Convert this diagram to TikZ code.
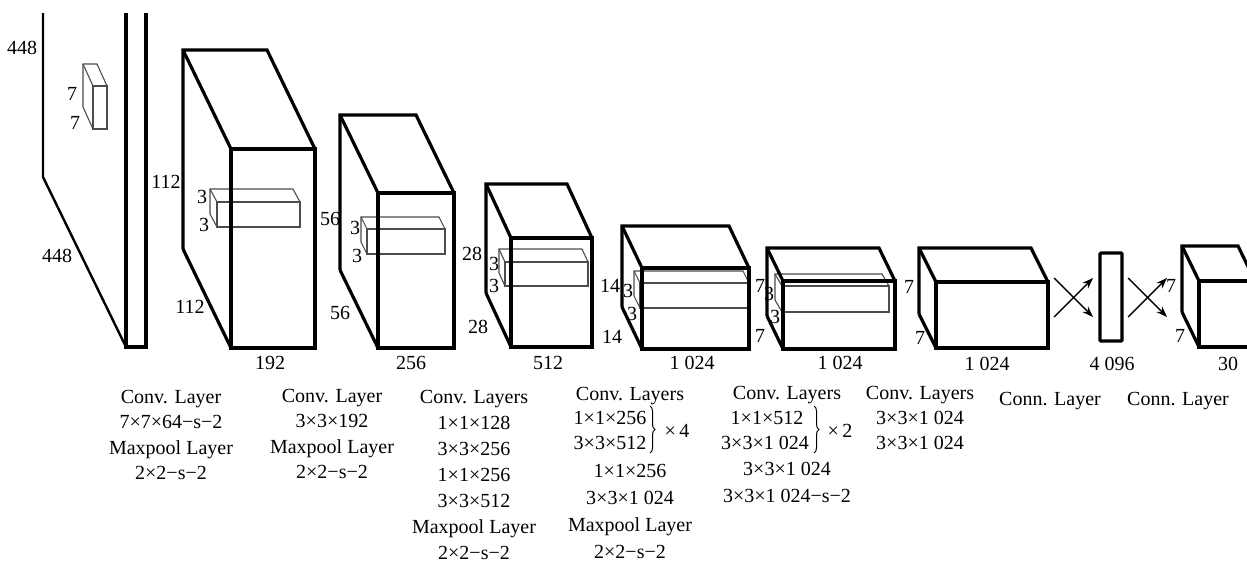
\documentclass[tikz,border=0pt]{standalone}
\usepackage{fontspec}
\setmainfont{Liberation Serif}
\usetikzlibrary{arrows.meta,decorations.pathreplacing}

\tikzset{
  blk/.style={line width=3.2pt, line join=miter},
  ker/.style={line width=1.1pt, draw=black!70},
  plane/.style={line width=2.4pt},
  dim/.style={inner sep=0pt, text height=14pt, text depth=0pt,
              font=\fontsize{20}{24}\selectfont},
  captxt/.style={dim},
  fcarrow/.style={line width=1.4pt, -{Stealth[length=11pt,width=8pt]}},
  brc/.style={decorate, decoration={brace, amplitude=5pt}, line width=1pt},
  fcbox/.style={draw, line width=3.2pt, inner sep=0pt, rounded corners=1pt,
                minimum width=22pt, minimum height=88pt},
}

% cuboid seen from the upper left: [style]{name}{x}{y}{dx}{dy}{w}{h}
% (x,y) back top-left corner, (dx,dy) depth offset, w x h front face
\newcommand{\cub}[8][blk]{%
  \coordinate (#2-btl) at (#3,#4);
  \coordinate (#2-btr) at (#3+#7,#4);
  \coordinate (#2-bbl) at (#3,#4+#8);
  \coordinate (#2-ftl) at (#3+#5,#4+#6);
  \coordinate (#2-ftr) at (#3+#5+#7,#4+#6);
  \coordinate (#2-fbl) at (#3+#5,#4+#6+#8);
  \coordinate (#2-fbr) at (#3+#5+#7,#4+#6+#8);
  \draw[#1] (#2-bbl) -- (#2-btl) -- (#2-btr) -- (#2-ftr);
  \draw[#1] (#2-btl) -- (#2-ftl);
  \draw[#1] (#2-bbl) -- (#2-fbl);
  \draw[#1] (#2-ftl) rectangle (#2-fbr);
}

% stacked caption lines: {name}{x}{y of first line}{spacing}{lines}
\newcommand{\lines}[5]{%
  \foreach \t [count=\i] in {#5} {\node[captxt] (#1-\i) at (#2,#3+#4*\i-#4) {\t};}
}

\begin{document}
\begin{tikzpicture}[x=1pt,y=-1pt]
\useasboundingbox (0,0) rectangle (1247,562);

% ---- input image 448 x 448 ----
\coordinate (in-t) at (43,13);
\coordinate (in-m) at (43,177);
\coordinate (s-tl) at (126,13);
\coordinate (s-bl) at (126,347);
\coordinate (s-br) at (146,347);
\coordinate (s-tr) at (146,13);
\draw[plane] (in-t) -- (in-m) -- (s-bl);
\draw[blk] (s-tl) -- (s-bl) -- (s-br) -- (s-tr);
\cub[ker]{k1}{83}{64}{10}{22}{14}{43}
\node[dim] (l448a) at (22,47) {448};
\node[dim] (l448b) at (57,255) {448};
\node[dim] (l7a) at (72,93) {7};
\node[dim] (l7b) at (75,122) {7};

% ---- 112 x 112 x 192 ----
\cub[ker]{k2}{210}{189}{7}{13}{83}{25}
\cub{b2}{183}{50}{48}{99}{84}{199}
\node[dim] (l112a) at (166,181) {112};
\node[dim] (l112b) at (190,306) {112};
\node[dim] (l3a) at (202,196) {3};
\node[dim] (l3b) at (204,224) {3};
\node[dim] (l192) at (270,362) {192};

% ---- 56 x 56 x 256 ----
\cub[ker]{k3}{361}{217}{6}{12}{78}{25}
\cub{b3}{340}{115}{38}{78}{76}{155}
\node[dim] (l56a) at (330,218) {56};
\node[dim] (l56b) at (340,312) {56};
\node[dim] (l3c) at (355,227) {3};
\node[dim] (l3d) at (357,255) {3};
\node[dim] (l256) at (411,362) {256};

% ---- 28 x 28 x 512 ----
\cub[ker]{k4}{499}{249}{6}{13}{83}{24}
\cub{b4}{486}{184}{25}{54}{81}{109}
\node[dim] (l28a) at (472,253) {28};
\node[dim] (l28b) at (478,326) {28};
\node[dim] (l3e) at (494,263) {3};
\node[dim] (l3f) at (494,285) {3};
\node[dim] (l512) at (548,362) {512};

% ---- 14 x 14 x 1024 ----
\cub[ker]{k5}{634}{271}{6}{12}{109}{25}
\cub{b5}{622}{226}{20}{42}{107}{81}
\node[dim] (l14a) at (610,285) {14};
\node[dim] (l14b) at (612,336) {14};
\node[dim] (l3g) at (628,290) {3};
\node[dim] (l3h) at (632,313) {3};
\node[dim] (l1024a) at (692,362) {1 024};

% ---- 7 x 7 x 1024 ----
\cub[ker]{k6}{775}{274}{7}{12}{107}{26}
\cub{b6}{767}{248}{16}{33}{112}{68}
\node[dim] (l7c) at (760,285) {7};
\node[dim] (l7d) at (760,335) {7};
\node[dim] (l3i) at (769,293) {3};
\node[dim] (l3j) at (775,316) {3};
\node[dim] (l1024b) at (840,362) {1 024};

% ---- 7 x 7 x 1024 ----
\cub{b7}{919}{248}{17}{34}{112}{66}
\node[dim] (l7e) at (909,286) {7};
\node[dim] (l7f) at (920,337) {7};
\node[dim] (l1024c) at (987,363) {1 024};

% ---- fully connected 4096 ----
\node[fcbox] (fc) at (1111,297) {};
\node[dim] (l4096) at (1112,363) {4 096};
\coordinate (a1p) at (1054,278);
\coordinate (a1q) at (1054,317);
\coordinate (a1r) at (1093,278);
\coordinate (a1s) at (1093,317);
\draw[fcarrow] (a1p) -- (a1s);
\draw[fcarrow] (a1q) -- (a1r);
\coordinate (a2p) at (1128,278);
\coordinate (a2q) at (1128,317);
\coordinate (a2r) at (1167,278);
\coordinate (a2s) at (1167,317);
\draw[fcarrow] (a2p) -- (a2s);
\draw[fcarrow] (a2q) -- (a2r);

% ---- output 7 x 7 x 30 ----
\cub{b8}{1182}{246}{17}{35}{56}{66}
\node[dim] (l7g) at (1171,285) {7};
\node[dim] (l7h) at (1180,335) {7};
\node[dim] (l30) at (1228,363) {30};

% ---- layer captions ----
\lines{c1}{171}{396}{25.5}{Conv. Layer, 7×7×64−s−2, Maxpool Layer, 2×2−s−2}
\lines{c2}{332}{395}{25.5}{Conv. Layer, 3×3×192, Maxpool Layer, 2×2−s−2}
\lines{c3}{474}{396}{26}{Conv. Layers, 1×1×128, 3×3×256, 1×1×256, 3×3×512, Maxpool Layer, 2×2−s−2}

\node[captxt] (c4-h) at (630,393) {Conv. Layers};
\node[captxt] (c4-a) at (610,417) {1×1×256};
\node[captxt] (c4-b) at (610,442) {3×3×512};
\coordinate (br4t) at (650,406);
\coordinate (br4b) at (650,453);
\draw[brc] (br4t) -- (br4b);
\node[captxt] (c4-x) at (677,430) {×\,4};
\lines{c4}{630}{470}{27.3}{1×1×256, 3×3×1 024, Maxpool Layer, 2×2−s−2}

\node[captxt] (c5-h) at (787,392) {Conv. Layers};
\node[captxt] (c5-a) at (767,417) {1×1×512};
\node[captxt] (c5-b) at (765,442) {3×3×1 024};
\coordinate (br5t) at (814,406);
\coordinate (br5b) at (814,453);
\draw[brc] (br5t) -- (br5b);
\node[captxt] (c5-x) at (840,430) {×\,2};
\lines{c5}{787}{468}{27}{3×3×1 024, 3×3×1 024−s−2}

\lines{c6}{920}{392}{25}{Conv. Layers, 3×3×1 024, 3×3×1 024}
\node[captxt] (c7) at (1050,398) {Conn. Layer};
\node[captxt] (c8) at (1178,398) {Conn. Layer};

\end{tikzpicture}
\end{document}
